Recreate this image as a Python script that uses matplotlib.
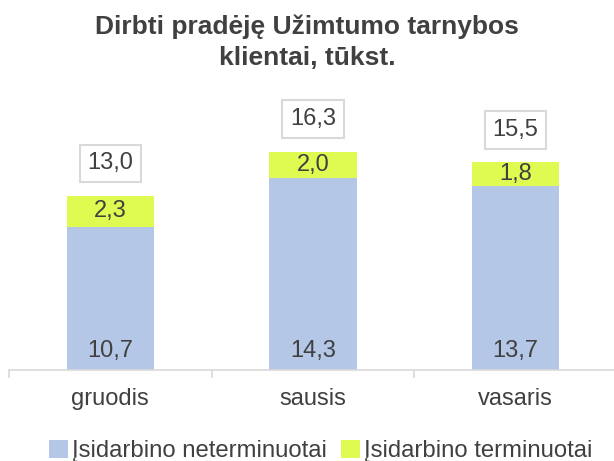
import matplotlib.pyplot as plt

plt.rcParams['font.family'] = ['Liberation Sans', 'DejaVu Sans']

# Duomenys
menesiai = ['gruodis', 'sausis', 'vasaris']
neterminuotai = [10.7, 14.3, 13.7]
terminuotai = [2.3, 2.0, 1.8]
sumos = [a + b for a, b in zip(neterminuotai, terminuotai)]

spalva_mel = '#B4C7E7'
spalva_gelt = '#DFFB52'
teksto_spalva = '#404040'

fig = plt.figure(figsize=(6.14, 4.61), dpi=100)
ax = fig.add_axes([0.0147, 0.197, 0.99, 0.582])

x = list(range(len(menesiai)))
ax.bar(x, neterminuotai, width=0.43, color=spalva_mel, label='Įsidarbino neterminuotai')
ax.bar(x, terminuotai, width=0.43, bottom=neterminuotai, color=spalva_gelt,
       label='Įsidarbino terminuotai')

def fmt(v):
    return f'{v:.1f}'.replace('.', ',')

for i in x:
    ax.text(i, 0.6, fmt(neterminuotai[i]), ha='center', va='bottom',
            fontsize=17, color=teksto_spalva)
    ax.text(i, neterminuotai[i] + terminuotai[i] / 2, fmt(terminuotai[i]),
            ha='center', va='center', fontsize=17, color=teksto_spalva)
    ax.text(i, sumos[i] + 2.42, fmt(sumos[i]), ha='center', va='center',
            fontsize=17, color=teksto_spalva,
            bbox=dict(boxstyle='square,pad=0.33', fc='white', ec='#D9D9D9', lw=1.5))

ax.set_xlim(-0.5, 2.5)
ax.set_ylim(0, 20)
for s in ['top', 'right', 'left']:
    ax.spines[s].set_visible(False)
ax.spines['bottom'].set_color('#D9D9D9')
ax.spines['bottom'].set_linewidth(1.2)
ax.set_yticks([])
ax.set_xticks([-0.5, 0.5, 1.5, 2.5])
ax.set_xticklabels([])
ax.set_xticks(x, minor=True)
ax.set_xticklabels(menesiai, minor=True, fontsize=17, color=teksto_spalva)
ax.tick_params(axis='x', which='major', length=6, color='#D9D9D9', width=1.2)
ax.tick_params(axis='x', which='minor', length=0, pad=13)

fig.text(0.5, 0.908, 'Dirbti pradėję Užimtumo tarnybos\nklientai, tūkst.', ha='center',
         va='center', fontsize=19, fontweight='bold', color=teksto_spalva, linespacing=1.38)

fig.legend(loc='center', bbox_to_anchor=(0.522, 0.022), ncol=2, frameon=False,
           fontsize=17.2, handlelength=0.8, handleheight=0.8, handletextpad=0.15,
           columnspacing=0.6, labelcolor=teksto_spalva)

fig.savefig('out.png', dpi=100)
